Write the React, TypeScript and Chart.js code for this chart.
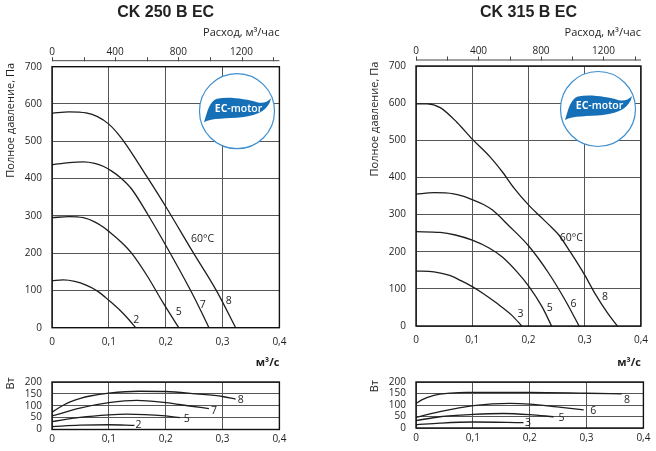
import React, { useEffect, useRef } from 'react';
import { Chart, registerables } from 'chart.js';

Chart.register(...registerables);

// ---------- axes ----------
const FLOW_MAX = 0.4; // m³/s
const FLOW_TICKS = [0, 0.1, 0.2, 0.3, 0.4];
const HOUR_MAX = 1440; // m³/h  (0.4 m³/s)
const HOUR_TICKS = [0, 200, 400, 600, 800, 1000, 1200, 1400];
const HOUR_LABELS = [0, 400, 800, 1200];
const PRESSURE_MAX = 700;
const PRESSURE_STEP = 100;
const POWER_MAX = 200;
const POWER_STEP = 50;

// ---------- CK 250 B EC : pressure, Pa ----------
const Q_250_2 = [0, 0.02, 0.04, 0.06, 0.08, 0.101, 0.12, 0.135, 0.147];
const P_250_2 = [126, 128, 124, 114, 98, 72, 46, 22, 0];
const Q_250_5 = [0, 0.03, 0.055, 0.075, 0.09, 0.101, 0.12, 0.14, 0.167, 0.195, 0.223];
const P_250_5 = [295, 298, 295, 284, 270, 257, 232, 200, 140, 68, 0];
const Q_250_7 = [0, 0.03, 0.055, 0.075, 0.09, 0.105, 0.12, 0.14, 0.168, 0.206, 0.242, 0.262, 0.276];
const P_250_7 = [437, 443, 445, 441, 433, 420, 403, 372, 305, 205, 105, 45, 0];
const Q_250_8 = [0, 0.03, 0.06, 0.08, 0.1, 0.115, 0.13, 0.167, 0.2, 0.249, 0.289, 0.323];
const P_250_8 = [575, 579, 576, 566, 546, 522, 492, 405, 325, 200, 100, 0];

// ---------- CK 250 B EC : power, W ----------
const QW_250_2 = [0, 0.049, 0.1, 0.145];
const W_250_2 = [12, 18, 20, 17];
const QW_250_5 = [0, 0.049, 0.1, 0.131, 0.2, 0.225];
const W_250_5 = [33, 51, 62, 65, 57, 50];
const QW_250_7 = [0, 0.049, 0.1, 0.149, 0.2, 0.242, 0.276];
const W_250_7 = [57, 90, 113, 123, 113, 99, 88];
const QW_250_8 = [0, 0.016, 0.032, 0.05, 0.067, 0.1, 0.154, 0.2, 0.253, 0.3, 0.323];
const W_250_8 = [73, 97, 116, 131, 141, 153, 161, 160, 150, 139, 128];

// ---------- CK 315 B EC : pressure, Pa ----------
const Q_315_3 = [0, 0.032, 0.06, 0.08, 0.1, 0.12, 0.142, 0.171, 0.188];
const P_315_3 = [148, 146, 136, 122, 106, 87, 63, 28, 0];
const Q_315_5 = [0, 0.043, 0.07, 0.1, 0.13, 0.154, 0.18, 0.2, 0.224, 0.241];
const P_315_5 = [254, 252, 245, 231, 210, 185, 145, 108, 52, 0];
const Q_315_6 = [0, 0.032, 0.067, 0.085, 0.1, 0.12, 0.136, 0.165, 0.2, 0.236, 0.265, 0.29];
const P_315_6 = [355, 359, 356, 349, 340, 327, 312, 270, 216, 142, 70, 0];
const Q_315_8 = [0, 0.02, 0.043, 0.073, 0.1, 0.13, 0.154, 0.174, 0.2, 0.22, 0.236, 0.254, 0.274, 0.3, 0.318, 0.341, 0.358];
const P_315_8 = [598, 598, 588, 548, 503, 458, 414, 372, 326, 296, 273, 245, 200, 137, 88, 34, 0];

// ---------- CK 315 B EC : power, W ----------
const QW_315_3 = [0, 0.042, 0.1, 0.189];
const W_315_3 = [14, 21, 26, 23];
const QW_315_5 = [0, 0.042, 0.1, 0.154, 0.2, 0.242];
const W_315_5 = [32, 49, 59, 63, 58, 49];
const QW_315_6 = [0, 0.042, 0.101, 0.165, 0.2, 0.248, 0.295];
const W_315_6 = [46, 71, 97, 107, 104, 92, 79];
const QW_315_8 = [0, 0.01, 0.019, 0.03, 0.042, 0.06, 0.089, 0.2, 0.3, 0.362];
const W_315_8 = [107, 122, 132, 141, 147, 152, 155, 155, 151, 148];

// ---------- curve annotations (data coordinates) ----------
const LBL_250_MAIN = [
  { text: '60°C', q: 0.265, v: 238 },
  { text: '8', q: 0.311, v: 72 },
  { text: '7', q: 0.265, v: 61 },
  { text: '5', q: 0.223, v: 42 },
  { text: '2', q: 0.148, v: 21 },
];
const LBL_250_POW = [
  { text: '8', q: 0.332, v: 126 },
  { text: '7', q: 0.285, v: 77 },
  { text: '5', q: 0.237, v: 44 },
  { text: '2', q: 0.152, v: 20 },
];
const LBL_315_MAIN = [
  { text: '60°C', q: 0.276, v: 238 },
  { text: '8', q: 0.336, v: 79 },
  { text: '6', q: 0.28, v: 58 },
  { text: '5', q: 0.238, v: 48 },
  { text: '3', q: 0.186, v: 31 },
];
const LBL_315_POW = [
  { text: '8', q: 0.371, v: 123 },
  { text: '6', q: 0.312, v: 72 },
  { text: '5', q: 0.256, v: 45 },
  { text: '3', q: 0.197, v: 23 },
];

// ---------- styling / layout ----------
const INK = '#1e1e1e';
const GRID = '#555';
const FONT = "'Open Sans', 'Liberation Sans', sans-serif";
const MAIN_H = 372;
const POW_TOP = 366;
const POW_H = 85;
const PLOT_LEFT = 52;
const PLOT_RIGHT = 279.4;
const TITLE_BOX = 22.6;

const PANELS = [
  {
    title: 'CK 250 B EC',
    x: 0,
    width: 330,
    mainTop: 66.7,
    mainBottom: 327.7,
    powTop: 379.7,
    powBottom: 429.5,
    logo: [185, 44.5],
    mainYTitleDy: -3.7,
    powYTitleDy: -4.7,
    curves: [
      { q: Q_250_2, v: P_250_2 },
      { q: Q_250_5, v: P_250_5 },
      { q: Q_250_7, v: P_250_7 },
      { q: Q_250_8, v: P_250_8 },
    ],
    power: [
      { q: QW_250_2, v: W_250_2 },
      { q: QW_250_5, v: W_250_5 },
      { q: QW_250_7, v: W_250_7 },
      { q: QW_250_8, v: W_250_8 },
    ],
    labels: LBL_250_MAIN,
    powLabels: LBL_250_POW,
  },
  {
    title: 'CK 315 B EC',
    x: 364,
    width: 292,
    mainTop: 66,
    mainBottom: 326,
    powTop: 376.8,
    powBottom: 428,
    logo: [182, 43],
    mainYTitleDy: -4.3,
    powYTitleDy: -2,
    curves: [
      { q: Q_315_3, v: P_315_3 },
      { q: Q_315_5, v: P_315_5 },
      { q: Q_315_6, v: P_315_6 },
      { q: Q_315_8, v: P_315_8 },
    ],
    power: [
      { q: QW_315_3, v: W_315_3 },
      { q: QW_315_5, v: W_315_5 },
      { q: QW_315_6, v: W_315_6 },
      { q: QW_315_8, v: W_315_8 },
    ],
    labels: LBL_315_MAIN,
    powLabels: LBL_315_POW,
  },
];

const fmtFlow = (v: number) => (v === 0 ? '0' : (Math.round(v * 10) / 10).toFixed(1).replace('.', ','));

function toDatasets(curves: any[]) {
  return curves.map((c) => ({
    data: c.q.map((q: number, i: number) => ({ x: q, y: c.v[i] })),
    borderColor: INK,
    borderWidth: 1.3,
    pointRadius: 0,
    fill: false,
    cubicInterpolationMode: 'monotone',
  }));
}

function drawLogo(ctx: CanvasRenderingContext2D, cx: number, cy: number) {
  ctx.save();
  ctx.beginPath();
  ctx.arc(cx, cy, 37.5, 0, Math.PI * 2);
  ctx.fillStyle = '#ffffff';
  ctx.fill();
  ctx.lineWidth = 1.2;
  ctx.strokeStyle = '#3d8fd1';
  ctx.stroke();

  ctx.beginPath();
  ctx.moveTo(cx - 33, cy + 11);
  ctx.bezierCurveTo(cx - 30, cy + 2, cx - 28, cy - 10, cx - 20, cy - 12.5);
  ctx.bezierCurveTo(cx - 8, cy - 15, cx + 10, cy - 12, cx + 20, cy - 9);
  ctx.bezierCurveTo(cx + 26, cy - 7.5, cx + 30, cy - 9, cx + 34, cy - 13);
  ctx.bezierCurveTo(cx + 32, cy - 2, cx + 22, cy + 4, cx + 5, cy + 6);
  ctx.bezierCurveTo(cx - 10, cy + 7.5, cx - 25, cy + 6.5, cx - 33, cy + 11);
  ctx.closePath();
  ctx.fillStyle = '#1570b8';
  ctx.fill();

  const fb = `bold 10.5px ${FONT}`;
  const fn = `600 10.5px ${FONT}`;
  ctx.font = fb;
  const w1 = ctx.measureText('EC').width;
  ctx.font = fn;
  const w2 = ctx.measureText('-motor').width;
  const x0 = cx + 1.5 - (w1 + w2) / 2;
  const ty = cy - 2.5;
  ctx.fillStyle = '#ffffff';
  ctx.textBaseline = 'middle';
  ctx.textAlign = 'left';
  ctx.font = fb;
  ctx.fillText('EC', x0, ty);
  ctx.font = fn;
  ctx.fillText('-motor', x0 + w1, ty);
  ctx.restore();
}

function decor(o: { yTitle: string; yTitleDy: number; labels: any[]; topAxis?: boolean; logo?: number[] }) {
  return {
    id: 'decor',
    afterDraw(chart: any) {
      const { ctx, chartArea: a, scales } = chart;
      ctx.save();
      if (o.logo) drawLogo(ctx, a.left + o.logo[0], a.top + o.logo[1]);

      // plot frame
      ctx.lineWidth = 1.4;
      ctx.strokeStyle = '#111';
      ctx.strokeRect(a.left, a.top, a.right - a.left, a.bottom - a.top);

      // top (m³/h) axis line and ticks, offset from the frame
      if (o.topAxis) {
        const s = scales.x2;
        const y0 = a.top - 6;
        ctx.lineWidth = 1;
        ctx.strokeStyle = '#444';
        ctx.beginPath();
        ctx.moveTo(s.left, y0);
        ctx.lineTo(s.right, y0);
        for (const t of s.ticks) {
          const px = Math.round(s.getPixelForValue(t.value)) + 0.5;
          ctx.moveTo(px, y0 + 0.5);
          ctx.lineTo(px, y0 - 3.5);
        }
        ctx.stroke();
      }

      // curve labels
      ctx.fillStyle = INK;
      ctx.font = `10.5px ${FONT}`;
      ctx.textAlign = 'center';
      ctx.textBaseline = 'middle';
      for (const l of o.labels) {
        ctx.fillText(l.text, scales.x.getPixelForValue(l.q), scales.y.getPixelForValue(l.v));
      }

      // rotated y title
      ctx.font = `11px ${FONT}`;
      ctx.translate(11, a.top + o.yTitleDy);
      ctx.rotate(-Math.PI / 2);
      ctx.textAlign = 'right';
      ctx.fillText(o.yTitle, 0, 0);
      ctx.restore();
    },
  };
}

const tickFont = { family: FONT, size: 10 };

function makeMain(canvas: HTMLCanvasElement, p: any) {
  return new Chart(canvas, {
    type: 'line',
    data: { datasets: toDatasets(p.curves) as any },
    options: {
      responsive: false,
      animation: false,
      events: [],
      layout: { padding: { left: 0, top: 0, right: p.width - PLOT_RIGHT, bottom: 0 } },
      plugins: {
        legend: { display: false },
        tooltip: { enabled: false },
        title: {
          display: true,
          text: p.title,
          fullSize: false,
          color: '#222',
          font: { family: "'Liberation Sans', sans-serif", size: 16, weight: 'bold' },
          padding: { top: 3.4, bottom: 0 },
        },
      },
      scales: {
        x: {
          type: 'linear',
          position: 'bottom',
          min: 0,
          max: FLOW_MAX,
          afterBuildTicks: (s: any) => {
            s.ticks = FLOW_TICKS.map((v) => ({ value: v }));
          },
          afterFit: (s: any) => {
            s.height = MAIN_H - p.mainBottom;
          },
          ticks: { autoSkip: false, maxRotation: 0, padding: 8, font: tickFont, color: INK, callback: (v: any) => fmtFlow(Number(v)) },
          grid: { color: GRID, lineWidth: 1, drawTicks: false },
          border: { display: false },
          title: {
            display: true,
            text: 'м³/с',
            align: 'end',
            color: INK,
            font: { family: FONT, size: 11, weight: 'bold' },
            padding: { top: 0, bottom: 2.5 },
          },
        },
        x2: {
          type: 'linear',
          position: 'top',
          min: 0,
          max: HOUR_MAX,
          afterBuildTicks: (s: any) => {
            s.ticks = HOUR_TICKS.map((v) => ({ value: v }));
          },
          afterFit: (s: any) => {
            s.height = p.mainTop - TITLE_BOX;
          },
          ticks: {
            autoSkip: false,
            maxRotation: 0,
            padding: 8.8,
            font: tickFont,
            color: INK,
            callback: (v: any) => (HOUR_LABELS.includes(Number(v)) ? String(v) : ''),
          },
          grid: { display: false, drawTicks: false },
          border: { display: false },
          title: {
            display: true,
            text: 'Расход, м³/час',
            align: 'end',
            color: INK,
            font: { family: FONT, size: 11 },
            padding: { top: 3.6, bottom: 0 },
          },
        },
        y: {
          type: 'linear',
          position: 'left',
          min: 0,
          max: PRESSURE_MAX,
          afterFit: (s: any) => {
            s.width = PLOT_LEFT;
          },
          ticks: { stepSize: PRESSURE_STEP, autoSkip: false, padding: 10, font: tickFont, color: INK },
          grid: { color: GRID, lineWidth: 1, drawTicks: false },
          border: { display: false },
        },
      },
    } as any,
    plugins: [
      decor({ yTitle: 'Полное давление, Па', yTitleDy: p.mainYTitleDy, labels: p.labels, topAxis: true, logo: p.logo }),
    ],
  });
}

function makePower(canvas: HTMLCanvasElement, p: any) {
  return new Chart(canvas, {
    type: 'line',
    data: { datasets: toDatasets(p.power) as any },
    options: {
      responsive: false,
      animation: false,
      events: [],
      layout: { padding: { left: 0, top: p.powTop - POW_TOP, right: p.width - PLOT_RIGHT, bottom: 0 } },
      plugins: { legend: { display: false }, tooltip: { enabled: false } },
      scales: {
        x: {
          type: 'linear',
          position: 'bottom',
          min: 0,
          max: FLOW_MAX,
          afterBuildTicks: (s: any) => {
            s.ticks = FLOW_TICKS.map((v) => ({ value: v }));
          },
          afterFit: (s: any) => {
            s.height = POW_H - (p.powBottom - POW_TOP);
          },
          ticks: { autoSkip: false, maxRotation: 0, padding: 4, font: tickFont, color: INK, callback: (v: any) => fmtFlow(Number(v)) },
          grid: { color: GRID, lineWidth: 1, drawTicks: false },
          border: { display: false },
        },
        y: {
          type: 'linear',
          position: 'left',
          min: 0,
          max: POWER_MAX,
          afterFit: (s: any) => {
            s.width = PLOT_LEFT;
          },
          ticks: { stepSize: POWER_STEP, autoSkip: false, padding: 10, font: tickFont, color: INK },
          grid: { color: GRID, lineWidth: 1, drawTicks: false },
          border: { display: false },
        },
      },
    } as any,
    plugins: [decor({ yTitle: 'Вт', yTitleDy: p.powYTitleDy, labels: p.powLabels })],
  });
}

function PanelView({ p }: { p: any }) {
  const mainRef = useRef<HTMLCanvasElement>(null);
  const powRef = useRef<HTMLCanvasElement>(null);
  useEffect(() => {
    const a = makeMain(mainRef.current!, p);
    const b = makePower(powRef.current!, p);
    return () => {
      a.destroy();
      b.destroy();
    };
  }, [p]);
  return (
    <>
      <canvas
        ref={mainRef}
        width={p.width}
        height={MAIN_H}
        style={{ position: 'absolute', left: p.x, top: 0, width: p.width, height: MAIN_H }}
      />
      <canvas
        ref={powRef}
        width={p.width}
        height={POW_H}
        style={{ position: 'absolute', left: p.x, top: POW_TOP, width: p.width, height: POW_H }}
      />
    </>
  );
}

export default function App() {
  return (
    <div
      style={{
        position: 'absolute',
        left: 0,
        top: 0,
        width: 656,
        height: 451,
        background: '#ffffff',
        overflow: 'hidden',
      }}
    >
      {PANELS.map((p) => (
        <PanelView key={p.title} p={p} />
      ))}
    </div>
  );
}
